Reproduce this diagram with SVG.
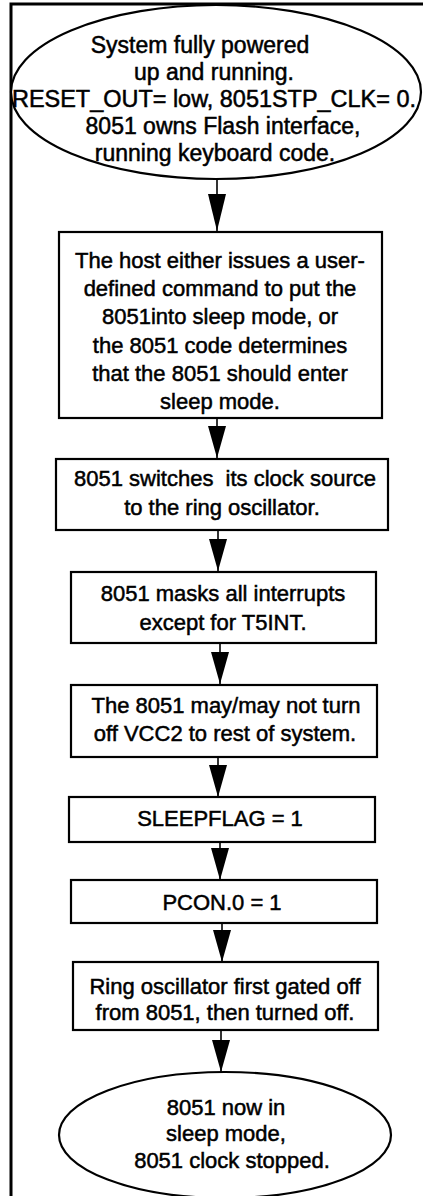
<svg xmlns="http://www.w3.org/2000/svg" width="423" height="1196" viewBox="0 0 423 1196">
<style>
.shape{fill:#fff;stroke:#000;stroke-width:2.2}
.frame{fill:none;stroke:#000;stroke-width:3}
.conn{stroke:#000;stroke-width:1.6;fill:none}
text{font-family:"Liberation Sans",Arial,sans-serif;font-size:22px;fill:#000;stroke:#000;stroke-width:0.5;text-anchor:middle}
.big{font-size:23px}
</style>
<defs>
<marker id="ah" markerWidth="32" markerHeight="18" refX="32" refY="9" orient="auto" markerUnits="userSpaceOnUse" viewBox="0 0 32 18">
<path d="M0,0 L32,9 L0,18 Z" fill="#000"/>
</marker>
<marker id="ahl" markerWidth="37" markerHeight="18" refX="37" refY="9" orient="auto" markerUnits="userSpaceOnUse" viewBox="0 0 37 18">
<path d="M0,0 L37,9 L0,18 Z" fill="#000"/>
</marker>
</defs>
<rect width="423" height="1196" fill="#fff"/>
<path class="frame" d="M11,1196 V4 H423"/>
<g id="connectors">
<line class="conn" x1="217" y1="179" x2="217" y2="231" marker-end="url(#ahl)"/>
<line class="conn" x1="217" y1="418" x2="217" y2="458" marker-end="url(#ah)"/>
<line class="conn" x1="218" y1="530" x2="218" y2="571" marker-end="url(#ah)"/>
<line class="conn" x1="220" y1="643" x2="220" y2="684" marker-end="url(#ah)"/>
<line class="conn" x1="218" y1="757" x2="218" y2="797" marker-end="url(#ah)"/>
<line class="conn" x1="220" y1="842" x2="220" y2="880" marker-end="url(#ah)"/>
<line class="conn" x1="222" y1="923" x2="222" y2="962" marker-end="url(#ah)"/>
<line class="conn" x1="221" y1="1030" x2="221" y2="1072" marker-end="url(#ah)"/>
</g>
<g id="start">
<ellipse class="shape" cx="216" cy="92" rx="205" ry="87"/>
<text class="big" x="200" y="53">System fully powered</text>
<text class="big" x="214" y="80">up and running.</text>
<text class="big" x="214" y="107" textLength="404" lengthAdjust="spacingAndGlyphs">RESET_OUT= low, 8051STP_CLK= 0.</text>
<text class="big" x="223" y="134">8051 owns Flash interface,</text>
<text class="big" x="215" y="161">running keyboard code.</text>
</g>
<g id="host">
<rect class="shape" x="59" y="232" width="323" height="186"/>
<text x="220" y="268">The host either issues a user-</text>
<text x="220" y="296">defined command to put the</text>
<text x="220" y="324">8051into sleep mode, or</text>
<text x="220" y="353">the 8051 code determines</text>
<text x="220" y="381">that the 8051 should enter</text>
<text x="220" y="409">sleep mode.</text>
</g>
<g id="clock">
<rect class="shape" x="56" y="459" width="332" height="71"/>
<text x="225" y="486" xml:space="preserve">8051 switches  its clock source</text>
<text x="222" y="515">to the ring oscillator.</text>
</g>
<g id="mask">
<rect class="shape" x="71" y="572" width="305" height="71"/>
<text x="223" y="601">8051 masks all interrupts</text>
<text x="223" y="630">except for T5INT.</text>
</g>
<g id="vcc">
<rect class="shape" x="71" y="685" width="306" height="72"/>
<text x="226" y="713">The 8051 may/may not turn</text>
<text x="225" y="741">off VCC2 to rest of system.</text>
</g>
<g id="sleepflag">
<rect class="shape" x="69" y="797" width="306" height="45"/>
<text x="220" y="826">SLEEPFLAG = 1</text>
</g>
<g id="pcon">
<rect class="shape" x="71" y="880" width="306" height="43"/>
<text x="222" y="910">PCON.0 = 1</text>
</g>
<g id="ring">
<rect class="shape" x="73" y="962" width="305" height="68"/>
<text x="225" y="994">Ring oscillator first gated off</text>
<text x="225" y="1020">from 8051, then turned off.</text>
</g>
<g id="end">
<ellipse class="shape" cx="225" cy="1135" rx="166" ry="63"/>
<text x="226" y="1115">8051 now in</text>
<text x="226" y="1141">sleep mode,</text>
<text x="232" y="1168">8051 clock stopped.</text>
</g>
</svg>
